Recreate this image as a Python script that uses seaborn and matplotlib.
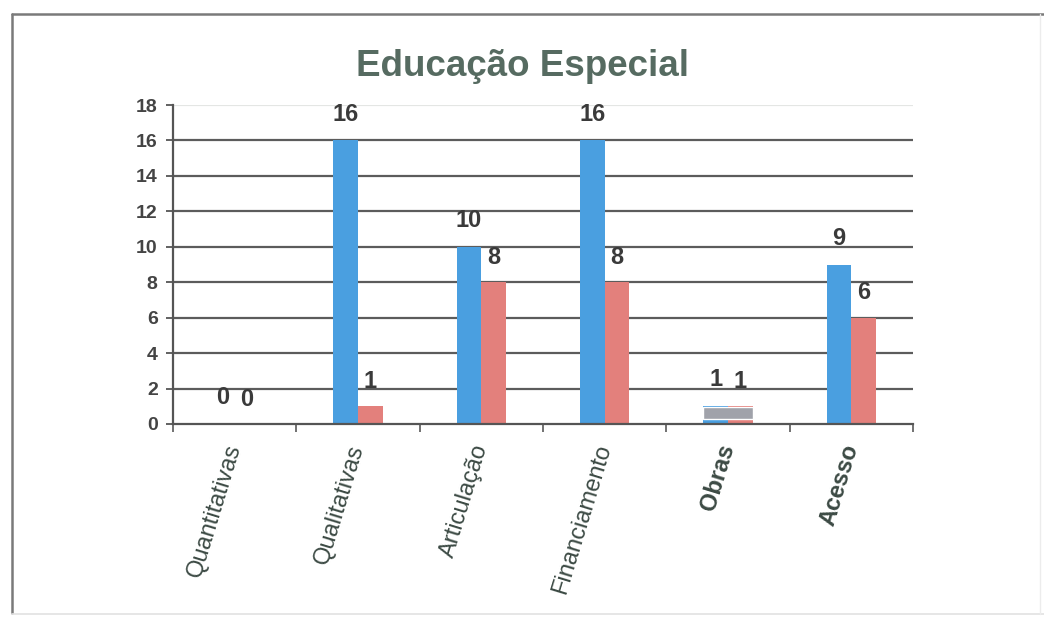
import matplotlib
matplotlib.use("Agg")
import matplotlib.pyplot as plt
from matplotlib.lines import Line2D
import seaborn as sns
import pandas as pd
import numpy as np

# Data
categories = ["Quantitativas", "Qualitativas", "Articulação", "Financiamento", "Obras", "Acesso"]
series_names = ["Série 1", "Série 2"]
serie_1 = [0, 16, 10, 16, 1, 9]
serie_2 = [0, 1, 8, 8, 1, 6]
# grey block drawn over the "Obras" pair
obras_block_bottom = 0.3
obras_block_top = 0.95
y_ticks = [0, 2, 4, 6, 8, 10, 12, 14, 16, 18]

df = pd.DataFrame({
    "categoria": categories * 2,
    "serie": [series_names[0]] * len(categories) + [series_names[1]] * len(categories),
    "valor": serie_1 + serie_2,
})

sns.set_theme(style="white")
plt.rcParams["font.family"] = ["Liberation Sans", "DejaVu Sans"]

fig = plt.figure(figsize=(10.44, 6.17), dpi=100)
ax = fig.add_axes([173 / 1044, 1 - 424 / 617, (913 - 173) / 1044, (424 - 105) / 617])

blue = "#4a9fe0"
red = "#e3807c"
text_dark = "#3a3a3a"

sns.barplot(data=df, x="categoria", y="valor", hue="serie", order=categories,
            hue_order=series_names, palette=[blue, red], width=0.4,
            saturation=1, legend=False, ax=ax, edgecolor="none", linewidth=0)

# grey block on Obras
obras_idx = categories.index("Obras")
ax.bar(obras_idx, obras_block_top - obras_block_bottom, bottom=obras_block_bottom,
       width=0.4, color="#a0a2aa", zorder=3)

ax.set_ylim(0, 18)
ax.set_xlim(-0.5, len(categories) - 0.5)
ax.set_yticks(y_ticks)
ax.set_yticklabels([str(t) for t in y_ticks], fontsize=14, fontweight="bold", color="#444444")
ax.set_xlabel("")
ax.set_ylabel("")

# horizontal grid
for t in y_ticks[1:]:
    ax.axhline(t, color="#e4e6e4" if t == 18 else "#5c5c5c",
               lw=1.6, zorder=0.5)

# spines
for s in ["top", "right"]:
    ax.spines[s].set_visible(False)
for s in ["left", "bottom"]:
    ax.spines[s].set_color("#555555")
    ax.spines[s].set_linewidth(1.6)

ax.tick_params(axis="y", which="major", length=5, width=1.3, color="#555555",
               direction="out", pad=6, left=True)
ax.set_xticks(np.arange(-0.5, len(categories)), minor=True)
ax.tick_params(axis="x", which="minor", length=6, width=1.3, color="#666666",
               direction="out", bottom=True)
ax.tick_params(axis="x", which="major", length=0, pad=15)

ax.set_xticks(range(len(categories)))
ax.set_xticklabels(categories)
for lbl in ax.get_xticklabels():
    lbl.set_rotation(73)
    lbl.set_rotation_mode("anchor")
    lbl.set_ha("right")
    lbl.set_va("center")
    lbl.set_fontsize(17)
    lbl.set_color("#3c4a44")
    if lbl.get_text() in ("Obras", "Acesso"):
        lbl.set_fontweight("bold")

# value labels above bars
for i, (v1, v2) in enumerate(zip(serie_1, serie_2)):
    ax.annotate(str(v1), (i - 0.1, v1), xytext=(0, 19),
                textcoords="offset points", ha="center", va="center",
                fontsize=17, fontweight="bold", color=text_dark, zorder=5)
    ax.annotate(str(v2), (i + 0.1, v2), xytext=(0, 18),
                textcoords="offset points", ha="center", va="center",
                fontsize=17, fontweight="bold", color=text_dark, zorder=5)

fig.text(522 / 1044, 1 - 66 / 617, "Educação Especial", ha="center", va="center",
         fontsize=26.5, fontweight="bold", color="#566b61")

# outer frame
fig.add_artist(Line2D([12 / 1044, 1.0], [1 - 14 / 617] * 2, transform=fig.transFigure,
                      color="#7a7a7a", lw=1.8))
fig.add_artist(Line2D([12 / 1044] * 2, [1 - 14 / 617, 1 - 613 / 617], transform=fig.transFigure,
                      color="#7a7a7a", lw=1.8))
fig.add_artist(Line2D([12 / 1044, 1.0], [1 - 614 / 617] * 2, transform=fig.transFigure,
                      color="#e2e2e2", lw=1.2))
fig.add_artist(Line2D([1040 / 1044] * 2, [1 - 14 / 617, 1 - 614 / 617], transform=fig.transFigure,
                      color="#ececec", lw=1.0))

fig.savefig("out.png", dpi=100)
